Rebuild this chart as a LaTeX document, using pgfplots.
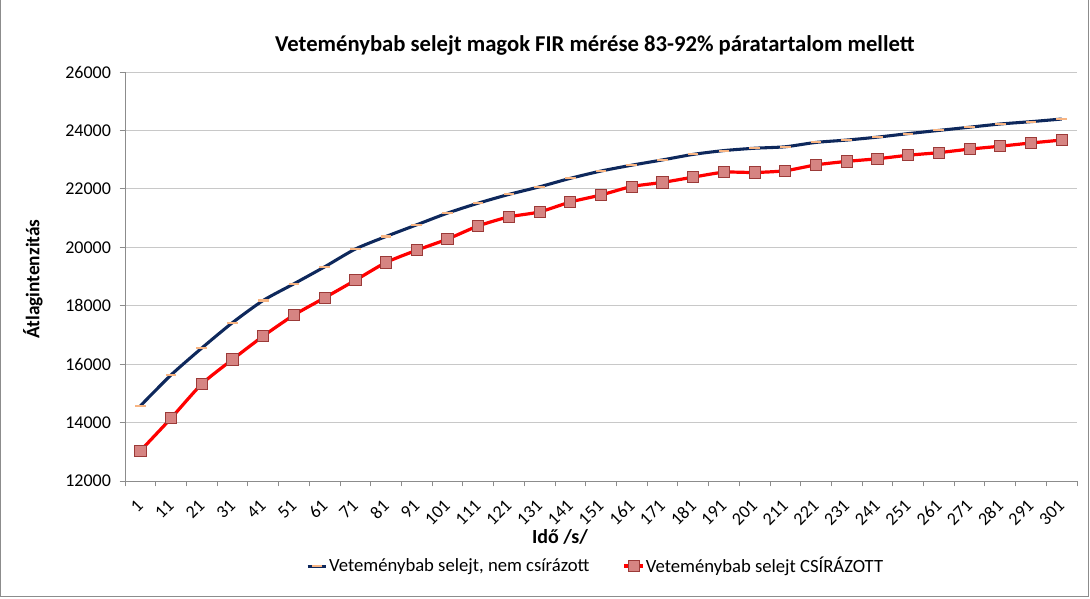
\documentclass[border=0pt]{standalone}
\usepackage{pgfplots}
\pgfplotsset{compat=1.18}
\usepackage{fontspec}
\setmainfont{Carlito}
\definecolor{navy}{RGB}{14,40,92}
\definecolor{dashor}{RGB}{247,180,130}
\definecolor{gridc}{RGB}{200,200,200}
\definecolor{axc}{RGB}{140,140,140}
\definecolor{sqfill}{RGB}{214,132,130}
\definecolor{sqdraw}{RGB}{155,58,56}
\definecolor{redl}{RGB}{255,0,0}
\pgfplotstableread{
x blue red
0 14570 13030
1 15630 14150
2 16550 15320
3 17420 16160
4 18180 16960
5 18750 17680
6 19330 18270
7 19940 18870
8 20370 19480
9 20770 19900
10 21170 20280
11 21510 20730
12 21810 21040
13 22070 21210
14 22360 21550
15 22610 21790
16 22810 22080
17 22990 22220
18 23180 22400
19 23310 22570
20 23390 22560
21 23440 22620
22 23590 22820
23 23670 22940
24 23770 23030
25 23890 23150
26 24000 23240
27 24110 23360
28 24220 23460
29 24300 23570
30 24390 23670
}\datatable
\begin{document}
\begin{tikzpicture}
\useasboundingbox (0pt,0pt) rectangle (817.5pt,449.25pt);
\draw[axc, line width=0.6pt] (0.4pt,2.3pt) rectangle (816.4pt,449.6pt);
\begin{axis}[
  at={(93.75pt,88.5pt)}, anchor=south west,
  scale only axis, width=714pt, height=306.75pt,
  xmin=-0.5, xmax=30.5, ymin=12000, ymax=26000,
  ytick={12000,14000,...,26000},
  scaled y ticks=false,
  xtick={0,...,30},
  xticklabels={1,11,21,31,41,51,61,71,81,91,101,111,121,131,141,151,161,171,181,191,201,211,221,231,241,251,261,271,281,291,301},
  minor xtick={-0.5,0.5,...,30.5},
  major x tick style={draw=none},
  minor tick length=4pt,
  major tick length=4pt,
  tick align=outside,
  tick pos=left,
  axis x line*=bottom, axis y line*=left,
  axis line style={axc, line width=0.6pt},
  tick style={axc, line width=0.6pt},
  x axis line style={-}, y axis line style={-},
  ymajorgrids, grid style={gridc, line width=0.6pt},
  /pgf/number format/assume math mode=true,
  /pgf/number format/1000 sep={},
  ticklabel style={font=\fontsize{13.5}{15}\selectfont, black},
  xticklabel style={xshift=-3.4pt, yshift=-7.4pt, rotate=45, anchor=north east, inner sep=1pt},
  yticklabel style={xshift=-3pt},
  clip=false,
  legend columns=2,
  legend style={at={(0.494,-0.208)}, anchor=center, draw=none, fill=none,
    font=\fontsize{14}{16}\selectfont, inner xsep=1pt,
    /tikz/every even column/.append style={column sep=24pt},
    nodes={inner xsep=1pt}},
  legend image code/.code={
    \draw[#1, mark repeat=2, mark phase=2] plot coordinates {(0pt,0pt) (7pt,0pt) (14pt,0pt)};
  },
]
\addplot[navy, line width=2.3pt, smooth, tension=0.4, mark=-, mark size=4pt,
  mark options={dashor, line width=1.6pt, solid}] table[x=x, y=blue] {\datatable};
\addlegendentry{Veteménybab selejt, nem csírázott}
\addplot[redl, line width=2.4pt, smooth, tension=0.4, mark=square*, mark size=4.2pt,
  mark options={fill=sqfill, draw=sqdraw, line width=0.6pt, solid}] table[x=x, y=red] {\datatable};
\addlegendentry{Veteménybab selejt CSÍRÁZOTT}
\end{axis}
\node[font=\bfseries\fontsize{17}{19}\selectfont] at (446.25pt,415.5pt) {Veteménybab selejt magok FIR mérése 83-92\% páratartalom mellett};
\node[font=\bfseries\fontsize{14.5}{16}\selectfont, rotate=90] at (24.75pt,240pt) {Átlagintenzitás};
\node[font=\bfseries\fontsize{15}{17}\selectfont] at (420pt,46.5pt) {Idő /s/};
\end{tikzpicture}
\end{document}
